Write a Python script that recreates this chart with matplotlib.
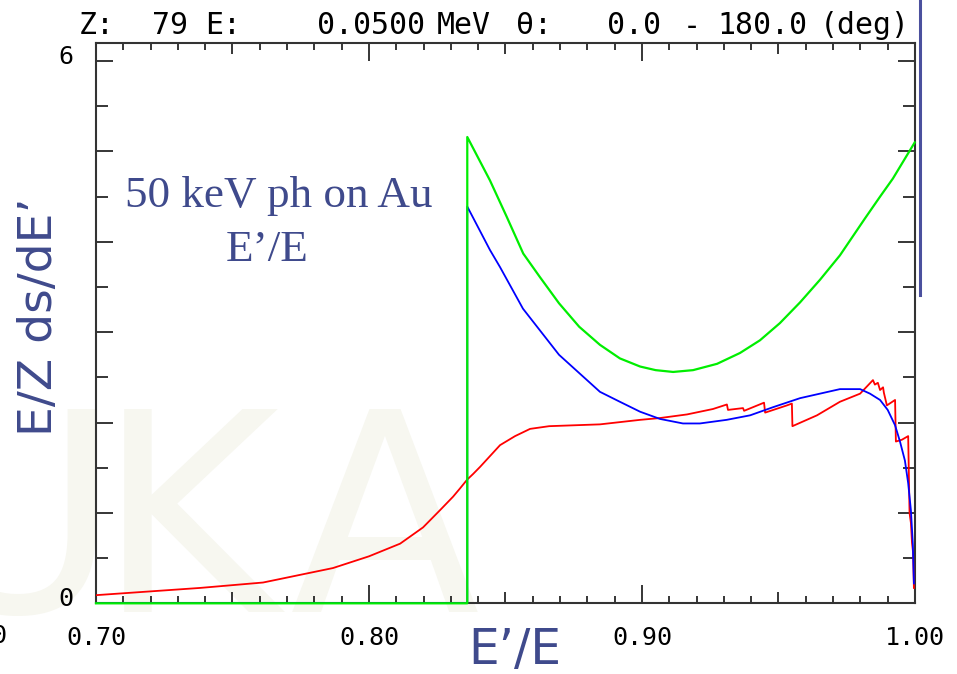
import numpy as np
import matplotlib
matplotlib.use("Agg")
import matplotlib.pyplot as plt
from matplotlib.lines import Line2D
from matplotlib import transforms

# E'/E spectra for 50 keV photons on gold (E/Z ds/dE')
red_x = [0.700, 0.7381, 0.7612, 0.7868, 0.8000, 0.8114, 0.8198, 0.8260, 0.8308, 0.8333,
         0.8360, 0.8381, 0.8407, 0.8480, 0.8535, 0.8590, 0.8660, 0.8846, 0.8993, 0.9066,
         0.9165, 0.9260, 0.9311, 0.9315, 0.9370, 0.9374, 0.9447, 0.9451, 0.9531, 0.9549,
         0.9551, 0.9641, 0.9725, 0.9799, 0.9846, 0.9853, 0.9864, 0.9872, 0.9883, 0.9886,
         0.9897, 0.9927, 0.9930, 0.9952, 0.9975, 0.9980, 0.9985, 0.9989, 0.9993, 0.9996]
red_y = [0.09, 0.17, 0.23, 0.39, 0.52, 0.66, 0.84, 1.03, 1.18, 1.27,
         1.37, 1.43, 1.51, 1.75, 1.85, 1.93, 1.96, 1.98, 2.03, 2.05,
         2.09, 2.15, 2.20, 2.14, 2.16, 2.13, 2.22, 2.11, 2.19, 2.21,
         1.96, 2.08, 2.23, 2.32, 2.47, 2.42, 2.44, 2.36, 2.39, 2.33,
         2.19, 2.25, 1.79, 1.81, 1.85, 1.00, 0.89, 0.67, 0.56, 0.17]

blue_x = [0.700, 0.8360, 0.8360, 0.8443, 0.8480, 0.8564, 0.8696, 0.8846, 0.8919, 0.8993,
          0.9066, 0.9150, 0.9212, 0.9310, 0.9396, 0.9480, 0.9579, 0.9652, 0.9725, 0.9799,
          0.9835, 0.9872, 0.9900, 0.9927, 0.9945, 0.9963, 0.9975, 0.9985, 0.9992, 0.9996]
blue_y = [0.0, 0.0, 4.39, 3.91, 3.72, 3.26, 2.75, 2.34, 2.23, 2.12,
          2.04, 1.99, 1.99, 2.03, 2.08, 2.17, 2.27, 2.32, 2.37, 2.37,
          2.32, 2.25, 2.14, 1.97, 1.79, 1.58, 1.33, 1.03, 0.66, 0.22]

green_x = [0.700, 0.8360, 0.8360, 0.8443, 0.8504, 0.8565, 0.8626, 0.8696, 0.8770, 0.8846,
           0.8919, 0.8993, 0.9050, 0.9114, 0.9187, 0.9275, 0.9359, 0.9432, 0.9505, 0.9579,
           0.9652, 0.9725, 0.9817, 0.9872, 0.9919, 0.9971, 0.9999]
green_y = [0.0, 0.0, 5.16, 4.68, 4.28, 3.87, 3.61, 3.32, 3.06, 2.86,
           2.71, 2.62, 2.58, 2.56, 2.58, 2.65, 2.77, 2.91, 3.10, 3.33,
           3.58, 3.85, 4.26, 4.50, 4.70, 4.96, 5.10]

x_labeled = [0.70, 0.80, 0.90, 1.00]
y_labeled = [0, 6]

title_parts = [("Z:", 79), ("79", 152), ("E:", 205), ("0.0500", 317), ("MeV", 437),
               ("\u03b8:", 516), ("0.0", 607), ("-", 683), ("180.0", 717), ("(deg)", 820)]

W, H = 957, 674
DPI = 100
fig = plt.figure(figsize=(W / DPI, H / DPI), dpi=DPI)
fig.patch.set_facecolor("white")

px = lambda x: x / W
py = lambda y: 1 - y / H

# faint logo letters in the background
wm = "#f7f7f0"
for ch, xc in [("U", 18), ("K", 188), ("A", 385)]:
    fig.text(px(xc), py(612), ch, fontsize=200, color=wm,
             ha="center", va="baseline", zorder=-5, family="DejaVu Sans")

ax = fig.add_axes([px(96), py(603.3), px(915) - px(96), py(43) - py(603.3)])
ax.set_zorder(2)
ax.patch.set_alpha(0)
ax.set_xlim(0.70, 1.00)
ax.set_ylim(0, 6.2)

ax.plot(red_x, red_y, color="#ff0000", lw=1.3, zorder=3)
ax.plot(blue_x, blue_y, color="#0000ff", lw=1.3, zorder=3)
ax.plot(green_x, green_y, color="#00ee00", lw=1.6, zorder=4, clip_on=False)

for s in ax.spines.values():
    s.set_linewidth(1.5)
    s.set_color("#333333")

tick_font = dict(family="DejaVu Sans Mono", size=18)
xt = np.round(np.arange(0.70, 1.0001, 0.05), 2)
ax.set_xticks(xt)
ax.set_xticklabels([f"{v:.2f}" if any(abs(v - l) < 1e-6 for l in x_labeled) else "" for v in xt],
                   fontdict=tick_font)
ax.set_xticks(np.round(np.arange(0.70, 1.0001, 0.01), 2), minor=True)
yt = np.arange(0, 7)
ax.set_yticks(yt)
ax.set_yticklabels([str(v) if v in y_labeled else "" for v in yt], fontdict=tick_font)
ax.set_yticks(np.arange(0.5, 6.0, 1.0), minor=True)

ax.tick_params(which="both", direction="in", top=True, right=True, color="black", width=1.1)
ax.tick_params(axis="x", which="major", length=13, pad=16)
ax.tick_params(axis="x", which="minor", length=4.7)
ax.tick_params(axis="y", which="major", length=12.5, pad=16)
ax.tick_params(axis="y", which="minor", length=8.5)

# mid-decade x ticks are shorter than the labeled ones
for v, t in zip(xt, ax.xaxis.get_major_ticks()):
    if not any(abs(v - l) < 1e-6 for l in x_labeled):
        t.tick1line.set_markersize(8)
        t.tick2line.set_markersize(8)

shift = transforms.ScaledTranslation(0, 7 / DPI, fig.dpi_scale_trans)
for lab in ax.get_yticklabels():
    lab.set_transform(lab.get_transform() + shift)

# cut-off label on the left edge
fig.text(px(7), py(636), "0.60", ha="right", va="center", family="DejaVu Sans Mono", size=18)

for txt, x0 in title_parts:
    fig.text(px(x0), py(26), txt, ha="left", va="center",
             family="DejaVu Sans Mono", fontsize=21.5)

navy = "#3f4a8c"
fig.text(px(40), py(317), "E/Z ds/dE\u2019", rotation=90, ha="center", va="center",
         color=navy, fontsize=34, family="DejaVu Sans")
fig.text(px(515), py(650), "E\u2019/E", ha="center", va="center",
         color=navy, fontsize=35, family="DejaVu Sans")
fig.text(px(279), py(207), "50 keV ph on Au", ha="center", va="baseline",
         color=navy, fontsize=32.5, family="Liberation Serif")
fig.text(px(267), py(261), "E\u2019/E", ha="center", va="baseline",
         color=navy, fontsize=32.5, family="Liberation Serif")

fig.add_artist(Line2D([px(920), px(920)], [py(0), py(295)], color="#4b509e", lw=2.2))

fig.savefig("out.png", dpi=DPI)
